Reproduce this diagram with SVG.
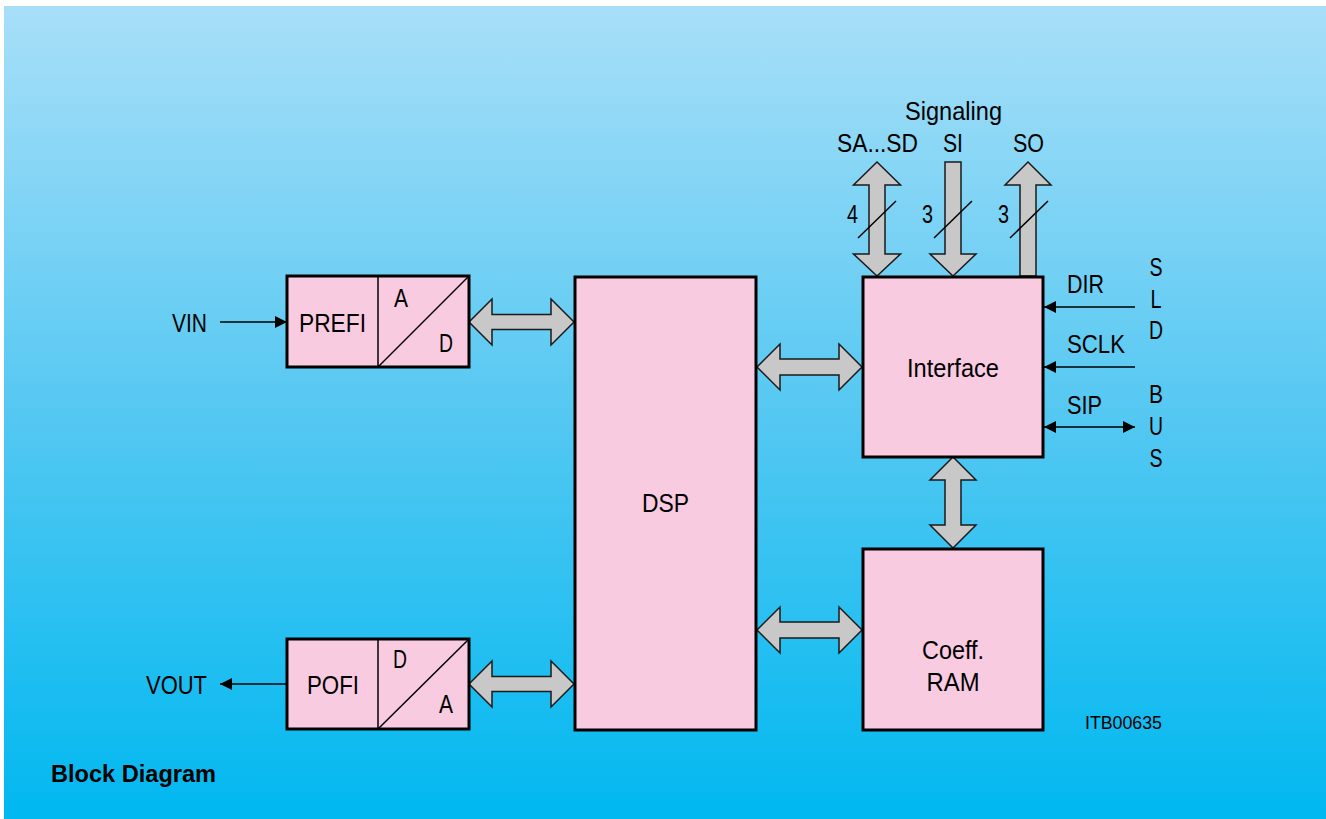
<svg xmlns="http://www.w3.org/2000/svg" width="1326" height="819" viewBox="0 0 1326 819">
<defs>
<linearGradient id="bg" x1="0" y1="0" x2="0" y2="1">
<stop offset="0" stop-color="#a8dff8"/>
<stop offset="0.5" stop-color="#55c8f2"/>
<stop offset="1" stop-color="#00b8f0"/>
</linearGradient>
<marker id="ah" viewBox="0 0 12 12" refX="12" refY="6" markerWidth="12" markerHeight="12" markerUnits="userSpaceOnUse" orient="auto-start-reverse">
<path d="M0,0 L12,6 L0,12 Z" fill="#000"/>
</marker>
<style>
.box{fill:#f9cbe0;stroke:#000;stroke-width:3}
.bus{fill:#c8c8c8;stroke:#1a1a1a;stroke-width:1.5;stroke-linejoin:miter}
.t{font-family:"Liberation Sans",Arial,sans-serif;font-size:26px;fill:#000}
.c{text-anchor:middle}
.ln{stroke:#000;stroke-width:1.5;fill:none}
.sig{stroke:#000;stroke-width:1.6;fill:none}
</style>
</defs>
<rect x="4" y="6" width="1322" height="813" fill="url(#bg)"/>

<g id="connectors">
<line class="sig" x1="220" y1="322" x2="287" y2="322" marker-end="url(#ah)"/>
<line class="sig" x1="287" y1="684" x2="220" y2="684" marker-end="url(#ah)"/>
<line class="sig" x1="1135" y1="307" x2="1044" y2="307" marker-end="url(#ah)"/>
<line class="sig" x1="1135" y1="367" x2="1044" y2="367" marker-end="url(#ah)"/>
<line class="sig" x1="1044" y1="427" x2="1135" y2="427" marker-start="url(#ah)" marker-end="url(#ah)"/>
<polygon class="bus" points="469,322 492,299 492,314.5 551,314.5 551,299 574,322 551,345 551,329.5 492,329.5 492,345"/>
<polygon class="bus" points="469,684 492,661 492,676.5 551,676.5 551,661 574,684 551,707 551,691.5 492,691.5 492,707"/>
<polygon class="bus" points="757,367 780,344 780,359 839,359 839,344 862,367 839,390 839,375 780,375 780,390"/>
<polygon class="bus" points="757,630 780,607 780,622 839,622 839,607 862,630 839,653 839,638 780,638 780,653"/>
<polygon class="bus" points="953,457 976,480 961,480 961,525 976,525 953,548 930,525 945,525 945,480 930,480"/>
<polygon class="bus" points="877,162 900.5,185 885,185 885,254 900.5,254 877,276 853.5,254 869,254 869,185 853.5,185"/>
<polygon class="bus" points="945,162 961,162 961,254 976,254 953,276 930,254 945,254"/>
<polygon class="bus" points="1028,162 1051,185 1036,185 1036,276 1020,276 1020,185 1005,185"/>
<line class="ln" x1="858" y1="238" x2="896" y2="201"/>
<line class="ln" x1="934" y1="238" x2="972" y2="201"/>
<line class="ln" x1="1010" y1="238" x2="1048" y2="201"/>
</g>

<g id="prefi">
<rect class="box" x="287" y="276" width="182" height="91"/>
<line class="ln" x1="378" y1="276" x2="378" y2="367" stroke-width="3"/>
<line class="ln" x1="378" y1="367" x2="469" y2="276" stroke-width="3"/>
<text class="t" x="299" y="332" textLength="67" lengthAdjust="spacingAndGlyphs">PREFI</text>
<text class="t" x="394" y="307" textLength="14" lengthAdjust="spacingAndGlyphs">A</text>
<text class="t" x="439" y="352" textLength="14" lengthAdjust="spacingAndGlyphs">D</text>
</g>

<g id="pofi">
<rect class="box" x="287" y="639" width="182" height="90"/>
<line class="ln" x1="378" y1="639" x2="378" y2="729" stroke-width="3"/>
<line class="ln" x1="378" y1="729" x2="469" y2="639" stroke-width="3"/>
<text class="t" x="307" y="694" textLength="52" lengthAdjust="spacingAndGlyphs">POFI</text>
<text class="t" x="393" y="668" textLength="14" lengthAdjust="spacingAndGlyphs">D</text>
<text class="t" x="439" y="713" textLength="14" lengthAdjust="spacingAndGlyphs">A</text>
</g>

<g id="dsp">
<rect class="box" x="575" y="277" width="181" height="453"/>
<text class="t c" x="665.5" y="512" textLength="47" lengthAdjust="spacingAndGlyphs">DSP</text>
</g>

<g id="interface">
<rect class="box" x="863" y="277" width="180" height="180"/>
<text class="t c" x="953" y="377" textLength="92" lengthAdjust="spacingAndGlyphs">Interface</text>
</g>

<g id="coeff-ram">
<rect class="box" x="863" y="549" width="180" height="181"/>
<text class="t c" x="953" y="659" textLength="62" lengthAdjust="spacingAndGlyphs">Coeff.</text>
<text class="t c" x="953" y="691" textLength="53" lengthAdjust="spacingAndGlyphs">RAM</text>
</g>

<g id="labels">
<text class="t" x="172" y="332" textLength="35" lengthAdjust="spacingAndGlyphs">VIN</text>
<text class="t" x="146" y="694" textLength="61" lengthAdjust="spacingAndGlyphs">VOUT</text>
<text class="t" x="905" y="120" textLength="97" lengthAdjust="spacingAndGlyphs">Signaling</text>
<text class="t" x="837" y="152" textLength="81" lengthAdjust="spacingAndGlyphs">SA...SD</text>
<text class="t" x="943" y="152" textLength="20" lengthAdjust="spacingAndGlyphs">SI</text>
<text class="t" x="1013" y="152" textLength="31" lengthAdjust="spacingAndGlyphs">SO</text>
<text class="t" x="847" y="223" textLength="11" lengthAdjust="spacingAndGlyphs">4</text>
<text class="t" x="922" y="223" textLength="11" lengthAdjust="spacingAndGlyphs">3</text>
<text class="t" x="998" y="223" textLength="11" lengthAdjust="spacingAndGlyphs">3</text>
<text class="t" x="1067" y="293" textLength="37" lengthAdjust="spacingAndGlyphs">DIR</text>
<text class="t" x="1067" y="353" textLength="58" lengthAdjust="spacingAndGlyphs">SCLK</text>
<text class="t" x="1067" y="414" textLength="35" lengthAdjust="spacingAndGlyphs">SIP</text>
<text class="t c" x="1156" y="276" textLength="13" lengthAdjust="spacingAndGlyphs">S</text>
<text class="t c" x="1156" y="308" textLength="11" lengthAdjust="spacingAndGlyphs">L</text>
<text class="t c" x="1156" y="339" textLength="14" lengthAdjust="spacingAndGlyphs">D</text>
<text class="t c" x="1156" y="403" textLength="14" lengthAdjust="spacingAndGlyphs">B</text>
<text class="t c" x="1156" y="435" textLength="14" lengthAdjust="spacingAndGlyphs">U</text>
<text class="t c" x="1156" y="467" textLength="13" lengthAdjust="spacingAndGlyphs">S</text>
<text x="1085" y="729" font-family="Liberation Sans, Arial, sans-serif" font-size="18" textLength="77" lengthAdjust="spacingAndGlyphs">ITB00635</text>
<text x="51" y="782" font-family="Liberation Sans, Arial, sans-serif" font-size="23.5" font-weight="bold" textLength="165" lengthAdjust="spacingAndGlyphs">Block Diagram</text>
</g>
</svg>
